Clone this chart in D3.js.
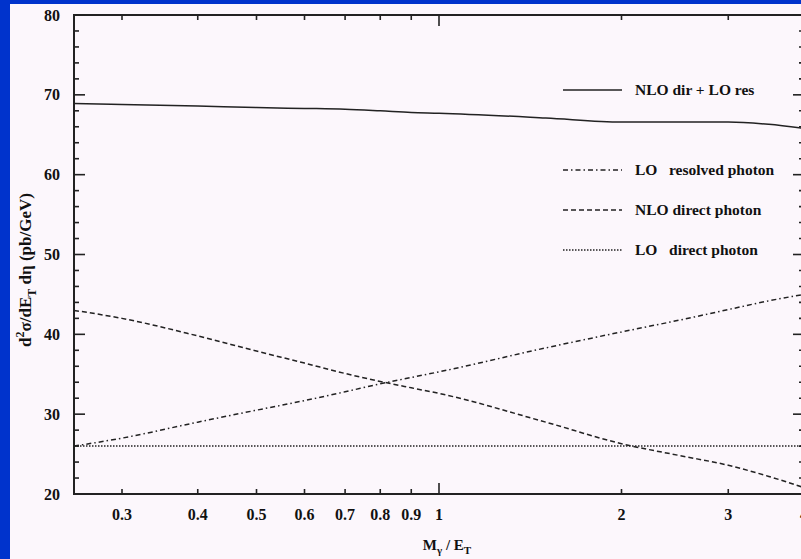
<!DOCTYPE html>
<html><head><meta charset="utf-8">
<script src="https://cdn.jsdelivr.net/npm/d3@7"></script>
<style>
html,body{margin:0;padding:0;background:#0033cc;}
svg{display:block;}
text{font-family:"Liberation Serif","Times New Roman",serif;font-weight:bold;fill:#111;}
</style></head><body>
<svg id="c" width="801" height="559"></svg>
<script>
const xs = [0.25, 0.3, 0.4, 0.5, 0.6, 0.7, 0.8, 0.9, 1, 1.5, 2, 2.5, 3, 3.5, 4];
const nloDirLoRes = [68.9, 68.8, 68.6, 68.4, 68.3, 68.2, 68.0, 67.8, 67.7, 67.1, 66.6, 66.6, 66.6, 66.3, 65.8];
const loResolved = [26.0, 27.0, 29.0, 30.5, 31.7, 32.8, 33.8, 34.6, 35.3, 38.3, 40.3, 41.8, 43.1, 44.2, 45.0];
const nloDirect = [43.0, 42.0, 39.8, 37.9, 36.4, 35.1, 34.1, 33.3, 32.6, 29.0, 26.3, 24.8, 23.6, 22.2, 20.8];
const loDirect = [26.0, 26.0, 26.0, 26.0, 26.0, 26.0, 26.0, 26.0, 26.0, 26.0, 26.0, 26.0, 26.0, 26.0, 26.0];
const xTickVals = [0.3, 0.4, 0.5, 0.6, 0.7, 0.8, 0.9, 1, 2, 3, 4];
const xTickLabels = ["0.3", "0.4", "0.5", "0.6", "0.7", "0.8", "0.9", "1", "2", "3", "4"];
const yMajor = [20, 30, 40, 50, 60, 70, 80];
const legendLabels = ["NLO dir + LO res", "LO   resolved photon", "NLO direct photon", "LO   direct photon"];

const svg = d3.select("#c");
svg.append("rect").attr("x", 10).attr("y", 4).attr("width", 791).attr("height", 555).attr("fill", "#fcf7fc");

const L = 74, R = 804, T = 15, B = 494;
const x = d3.scaleLog().domain([0.25, 4]).range([L, R]);
const y = d3.scaleLinear().domain([20, 80]).range([B, T]);
const ink = "#222";

// frame
svg.append("rect").attr("x", L).attr("y", T).attr("width", R - L).attr("height", B - T)
  .attr("fill", "none").attr("stroke", ink).attr("stroke-width", 2);

// y ticks
const yMinor = d3.range(20, 80.1, 2);
yMinor.forEach(v => {
  const major = v % 10 === 0;
  const len = major ? 11 : 5;
  svg.append("line").attr("x1", L).attr("x2", L + len).attr("y1", y(v)).attr("y2", y(v)).attr("stroke", ink).attr("stroke-width", 1.6);
  svg.append("line").attr("x1", R).attr("x2", R - len).attr("y1", y(v)).attr("y2", y(v)).attr("stroke", ink).attr("stroke-width", 1.6);
});
yMajor.forEach(v => {
  svg.append("text").attr("x", 60).attr("y", y(v)).attr("dy", "0.35em").attr("text-anchor", "end")
    .attr("font-size", 16).text(v);
});

// x ticks
xTickVals.forEach((v, i) => {
  const len = v === 1 ? 11 : 5;
  svg.append("line").attr("x1", x(v)).attr("x2", x(v)).attr("y1", B).attr("y2", B - len).attr("stroke", ink).attr("stroke-width", 1.6);
  svg.append("line").attr("x1", x(v)).attr("x2", x(v)).attr("y1", T).attr("y2", T + len).attr("stroke", ink).attr("stroke-width", 1.6);
  svg.append("text").attr("x", x(v)).attr("y", 520).attr("text-anchor", "middle")
    .attr("font-size", 16).text(xTickLabels[i]);
});

// axis titles
const xt = svg.append("text").attr("x", 447).attr("y", 550).attr("text-anchor", "middle").attr("font-size", 15);
xt.append("tspan").text("M");
xt.append("tspan").attr("dy", 4).attr("font-size", 11).text("γ");
xt.append("tspan").attr("dy", -4).text(" / E");
xt.append("tspan").attr("dy", 4).attr("font-size", 11).text("T");

const yt = svg.append("text").attr("transform", "translate(31,270) rotate(-90)").attr("text-anchor", "middle").attr("font-size", 17);
yt.append("tspan").text("d");
yt.append("tspan").attr("dy", -7).attr("font-size", 12).text("2");
yt.append("tspan").attr("dy", 7).text("σ/dE");
yt.append("tspan").attr("dy", 5).attr("font-size", 12).text("T");
yt.append("tspan").attr("dy", -5).text(" dη (pb/GeV)");

// series
const series = [
  {vals: nloDirLoRes, dash: null},
  {vals: loResolved, dash: "5,3,1.5,3"},
  {vals: nloDirect, dash: "5,3"},
  {vals: loDirect, dash: "1.5,1.5"}
];
const line = d3.line().x(d => x(d[0])).y(d => y(d[1])).curve(d3.curveMonotoneX);
svg.append("clipPath").attr("id", "pc").append("rect").attr("x", L).attr("y", T).attr("width", R - L).attr("height", B - T);
series.forEach(s => {
  const p = svg.append("path").attr("clip-path", "url(#pc)")
    .attr("d", line(xs.map((v, i) => [v, s.vals[i]])))
    .attr("fill", "none").attr("stroke", ink).attr("stroke-width", 1.5);
  if (s.dash) p.attr("stroke-dasharray", s.dash);
});

// legend
const legY = [90, 170, 210, 250];
series.forEach((s, i) => {
  const l = svg.append("line").attr("x1", 563).attr("x2", 622).attr("y1", legY[i]).attr("y2", legY[i])
    .attr("stroke", ink).attr("stroke-width", 1.3);
  if (s.dash) l.attr("stroke-dasharray", s.dash);
  svg.append("text").attr("x", 635).attr("y", legY[i]).attr("dy", "0.35em").attr("font-size", 15.5)
    .attr("xml:space", "preserve").style("white-space", "pre").text(legendLabels[i]);
});
</script>
</body></html>
